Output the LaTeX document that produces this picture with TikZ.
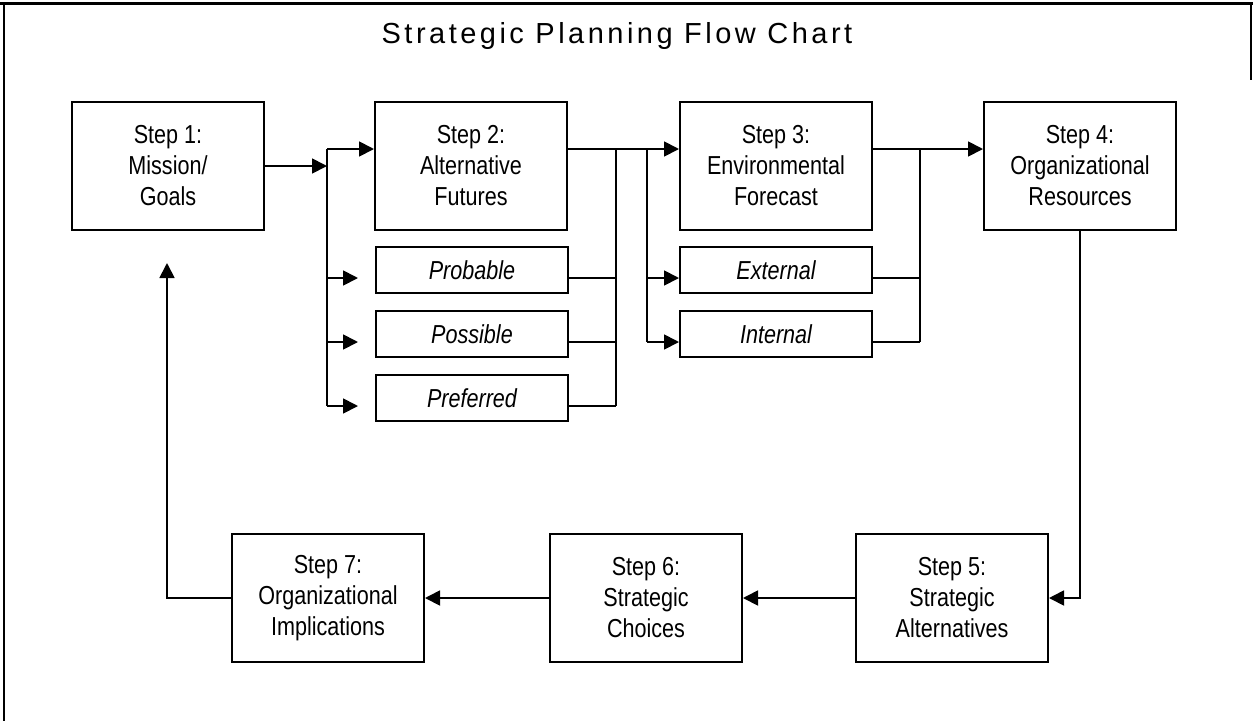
\documentclass[tikz,border=0pt]{standalone}
\usepackage{fontspec}
\setmainfont{Liberation Sans}[FakeStretch=0.83]
\newfontfamily\titlefont{Liberation Sans}[LetterSpace=12]
\usetikzlibrary{arrows.meta,calc}
\begin{document}
\begin{tikzpicture}[x=1pt,y=-1pt,
  stepbox/.style={draw,line width=2pt,minimum width=192pt,minimum height=128pt,inner sep=0pt,align=center,font=\fontsize{26}{31}\selectfont},
  subbox/.style={draw,line width=2pt,minimum width=192pt,minimum height=46pt,inner sep=0pt,font=\fontsize{26}{31}\selectfont\itshape},
  conn/.style={line width=1.8pt},
  arr/.style={conn,-{Triangle[length=15pt,width=15pt]}},
  frameline/.style={line width=1.2pt}
]
\useasboundingbox (0,0) rectangle (1253,721);
% frame
\draw[line width=3pt] (0,3) -- (1253,3);
\draw[frameline] (4,3) -- (4,721);
\draw[frameline] (1251,3) -- (1251,80);
% title
\node[font=\titlefont\fontsize{29}{33}\selectfont] (title) at (617,36) {Strategic Planning Flow Chart};
% nodes
\node[stepbox] (s1) at (168,166) {Step 1:\\Mission/\\Goals};
\node[stepbox] (s2) at (471,166) {Step 2:\\Alternative\\Futures};
\node[stepbox] (s3) at (776,166) {Step 3:\\Environmental\\Forecast};
\node[stepbox] (s4) at (1080,166) {Step 4:\\Organizational\\Resources};
\node[subbox] (p1) at (472,270) {Probable};
\node[subbox] (p2) at (472,334) {Possible};
\node[subbox] (p3) at (472,398) {Preferred};
\node[subbox] (e1) at (776,270) {External};
\node[subbox] (e2) at (776,334) {Internal};
\node[stepbox] (s5) at (952,598) {Step 5:\\Strategic\\Alternatives};
\node[stepbox] (s6) at (646,598) {Step 6:\\Strategic\\Choices};
\node[stepbox] (s7) at (328,598) {Step 7:\\Organizational\\Implications};
% coordinates
\coordinate (b1t) at (327,149);
\coordinate (b1b) at (327,406);
\coordinate (b1m) at (327,166);
\coordinate (q1) at (358,278);
\coordinate (q2) at (358,342);
\coordinate (q3) at (358,406);
\coordinate (b2t) at (616,149);
\coordinate (b2b) at (616,406);
\coordinate (b3t) at (647,149);
\coordinate (b3b) at (647,342);
\coordinate (b4t) at (920,149);
\coordinate (b4b) at (920,342);
\coordinate (back) at (167,263);
% step 1 -> step 2 group
\draw[arr] (s1.east) -- (b1m);
\draw[conn] (b1t) -- (b1b);
\draw[arr] (b1t) -- (s2.west |- b1t);
\draw[arr] (b1t |- q1) -- (q1);
\draw[arr] (b1t |- q2) -- (q2);
\draw[arr] (b1t |- q3) -- (q3);
% step 2 group -> step 3 group
\draw[conn] (p1.east |- q1) -- (b2t |- q1);
\draw[conn] (p2.east |- q2) -- (b2t |- q2);
\draw[conn] (p3.east |- q3) -- (b2t |- q3);
\draw[conn] (b2t) -- (b2b);
\draw[arr] (s2.east |- b1t) -- (s3.west |- b1t);
\draw[conn] (b3t) -- (b3b);
\draw[arr] (b3t |- q1) -- (e1.west |- q1);
\draw[arr] (b3t |- q2) -- (e2.west |- q2);
% step 3 group -> step 4
\draw[conn] (e1.east |- q1) -- (b4t |- q1);
\draw[conn] (e2.east |- q2) -- (b4t |- q2);
\draw[conn] (b4t) -- (b4b);
\draw[arr] (s3.east |- b1t) -- (s4.west |- b1t);
% bottom row
\draw[arr] (s4.south) |- (s5.east);
\draw[arr] (s5.west) -- (s6.east);
\draw[arr] (s6.west) -- (s7.east);
\draw[arr] (s7.west) -| (back);
\end{tikzpicture}
\end{document}
